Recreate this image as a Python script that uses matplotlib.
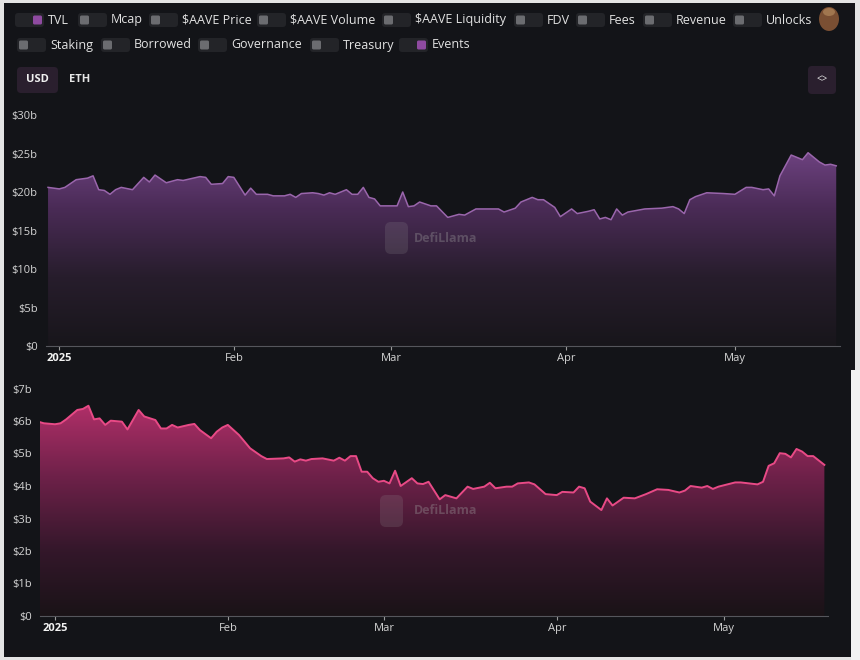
import matplotlib
matplotlib.use('Agg')
import matplotlib.pyplot as plt
import matplotlib.dates as mdates
from matplotlib.patches import FancyBboxPatch, Rectangle, Ellipse
from matplotlib.colors import LinearSegmentedColormap
import numpy as np
import datetime as dt

plt.rcParams['font.family'] = ['Open Sans', 'DejaVu Sans']

# ---------------- data ----------------
legend_labels_row1 = ["TVL", "Mcap", "$AAVE Price", "$AAVE Volume", "$AAVE Liquidity",
                      "FDV", "Fees", "Revenue", "Unlocks"]
legend_labels_row2 = ["Staking", "Borrowed", "Governance", "Treasury", "Events"]
legend_on = {"TVL", "Events"}

tvl_dates = ["2024-12-30", "2025-01-01", "2025-01-02", "2025-01-04", "2025-01-06", "2025-01-07",
             "2025-01-08", "2025-01-09", "2025-01-10", "2025-01-11", "2025-01-12", "2025-01-14",
             "2025-01-16", "2025-01-17", "2025-01-18", "2025-01-20", "2025-01-22", "2025-01-23",
             "2025-01-26", "2025-01-27", "2025-01-28", "2025-01-30", "2025-01-31", "2025-02-01",
             "2025-02-03", "2025-02-04", "2025-02-05", "2025-02-07", "2025-02-08", "2025-02-10",
             "2025-02-11", "2025-02-12", "2025-02-13", "2025-02-15", "2025-02-16", "2025-02-17",
             "2025-02-18", "2025-02-19", "2025-02-21", "2025-02-22", "2025-02-23", "2025-02-24",
             "2025-02-25", "2025-02-26", "2025-02-27", "2025-03-02", "2025-03-03", "2025-03-04",
             "2025-03-05", "2025-03-06", "2025-03-08", "2025-03-09", "2025-03-11", "2025-03-13",
             "2025-03-14", "2025-03-16", "2025-03-20", "2025-03-21", "2025-03-23", "2025-03-24",
             "2025-03-26", "2025-03-27", "2025-03-28", "2025-03-30", "2025-03-31", "2025-04-02",
             "2025-04-03", "2025-04-05", "2025-04-06", "2025-04-07", "2025-04-08", "2025-04-09",
             "2025-04-10", "2025-04-11", "2025-04-12", "2025-04-15", "2025-04-18", "2025-04-20",
             "2025-04-21", "2025-04-22", "2025-04-23", "2025-04-24", "2025-04-26", "2025-04-29",
             "2025-05-01", "2025-05-03", "2025-05-04", "2025-05-06", "2025-05-07", "2025-05-08",
             "2025-05-09", "2025-05-11", "2025-05-13", "2025-05-14", "2025-05-16", "2025-05-17",
             "2025-05-18", "2025-05-19"]
tvl_values = [20.6, 20.4, 20.6, 21.6, 21.8, 22.1,
              20.3, 20.2, 19.7, 20.3, 20.6, 20.3,
              21.9, 21.3, 22.2, 21.2, 21.6, 21.5,
              22.0, 21.9, 21.0, 21.1, 22.0, 21.9,
              19.6, 20.5, 19.7, 19.7, 19.5, 19.5,
              19.7, 19.3, 19.8, 19.9, 19.8, 19.6,
              19.9, 19.7, 20.3, 19.7, 19.7, 20.6,
              19.3, 19.1, 18.2, 18.2, 20.0, 18.1,
              18.2, 18.7, 18.2, 18.2, 16.7, 17.1,
              17.0, 17.8, 17.8, 17.4, 17.9, 18.7,
              19.3, 19.0, 19.0, 18.0, 16.8, 17.8,
              17.2, 17.5, 17.7, 16.5, 16.7, 16.4,
              17.8, 17.0, 17.4, 17.8, 17.9, 18.1,
              17.8, 17.2, 19.0, 19.4, 19.9, 19.8,
              19.7, 20.6, 20.6, 20.3, 20.4, 19.5,
              22.1, 24.8, 24.2, 25.1, 23.9, 23.5,
              23.6, 23.4]

s2_dates = ["2024-12-29", "2024-12-30", "2025-01-01", "2025-01-02", "2025-01-03", "2025-01-05",
            "2025-01-06", "2025-01-07", "2025-01-08", "2025-01-09", "2025-01-10", "2025-01-11",
            "2025-01-13", "2025-01-14", "2025-01-16", "2025-01-17", "2025-01-19", "2025-01-20",
            "2025-01-21", "2025-01-22", "2025-01-23", "2025-01-25", "2025-01-26", "2025-01-27",
            "2025-01-29", "2025-01-30", "2025-01-31", "2025-02-01", "2025-02-03", "2025-02-05",
            "2025-02-07", "2025-02-08", "2025-02-11", "2025-02-12", "2025-02-13", "2025-02-14",
            "2025-02-15", "2025-02-16", "2025-02-18", "2025-02-20", "2025-02-21", "2025-02-22",
            "2025-02-23", "2025-02-24", "2025-02-25", "2025-02-26", "2025-02-27", "2025-02-28",
            "2025-03-01", "2025-03-02", "2025-03-03", "2025-03-04", "2025-03-06", "2025-03-07",
            "2025-03-08", "2025-03-09", "2025-03-11", "2025-03-12", "2025-03-14", "2025-03-16",
            "2025-03-17", "2025-03-19", "2025-03-20", "2025-03-21", "2025-03-23", "2025-03-24",
            "2025-03-25", "2025-03-27", "2025-03-28", "2025-03-30", "2025-04-01", "2025-04-02",
            "2025-04-04", "2025-04-05", "2025-04-06", "2025-04-07", "2025-04-09", "2025-04-10",
            "2025-04-11", "2025-04-13", "2025-04-15", "2025-04-17", "2025-04-19", "2025-04-21",
            "2025-04-23", "2025-04-24", "2025-04-25", "2025-04-27", "2025-04-28", "2025-04-29",
            "2025-04-30", "2025-05-03", "2025-05-04", "2025-05-07", "2025-05-08", "2025-05-09",
            "2025-05-10", "2025-05-11", "2025-05-12", "2025-05-13", "2025-05-14", "2025-05-15",
            "2025-05-16", "2025-05-17", "2025-05-19"]
s2_values = [5.98, 5.93, 5.90, 5.93, 6.05, 6.34,
             6.37, 6.47, 6.05, 6.08, 5.88, 6.01,
             5.98, 5.74, 6.34, 6.14, 6.03, 5.77,
             5.77, 5.88, 5.80, 5.88, 5.91, 5.72,
             5.47, 5.67, 5.80, 5.88, 5.57, 5.16,
             4.92, 4.83, 4.85, 4.88, 4.75, 4.82,
             4.78, 4.83, 4.85, 4.78, 4.87, 4.78,
             4.92, 4.92, 4.44, 4.44, 4.24, 4.13,
             4.16, 4.08, 4.47, 4.00, 4.24, 4.08,
             4.06, 4.13, 3.59, 3.72, 3.62, 3.98,
             3.91, 3.98, 4.10, 3.93, 3.98, 3.98,
             4.08, 4.11, 4.05, 3.75, 3.72, 3.82,
             3.80, 3.98, 3.93, 3.52, 3.26, 3.62,
             3.40, 3.64, 3.62, 3.75, 3.90, 3.88,
             3.80, 3.86, 4.00, 3.95, 4.00, 3.91,
             3.98, 4.11, 4.11, 4.05, 4.13, 4.62,
             4.70, 5.01, 4.99, 4.88, 5.14, 5.06,
             4.92, 4.92, 4.65]

top_yticks = [0, 5, 10, 15, 20, 25, 30]
top_ylabels = ["$0", "$5b", "$10b", "$15b", "$20b", "$25b", "$30b"]
bot_yticks = [0, 1, 2, 3, 4, 5, 6, 7]
bot_ylabels = ["$0", "$1b", "$2b", "$3b", "$4b", "$5b", "$6b", "$7b"]
month_ticks = ["2025-01-01", "2025-02-01", "2025-03-01", "2025-04-01", "2025-05-01"]
month_labels = ["2025", "Feb", "Mar", "Apr", "May"]

# ---------------- figure ----------------
W, H = 860, 660
BG = '#131418'
fig = plt.figure(figsize=(8.6, 6.6), dpi=100)
fig.patch.set_facecolor('#e4e4e4')


def px_rect(l, t, r, b):
    return [l / W, 1 - b / H, (r - l) / W, (b - t) / H]


bg = fig.add_axes([0, 0, 1, 1], zorder=0)
bg.set_xlim(0, W)
bg.set_ylim(H, 0)
bg.axis('off')
bg.add_patch(Rectangle((4, 3), 851, 654, facecolor=BG, edgecolor='none'))
bg.add_patch(Rectangle((851, 370), 9, 290, facecolor='#f2f2f2', edgecolor='none'))

# legend toggles
TXT = '#e2e2e2'
row1_knob = [33, 80, 151, 259, 384, 516, 578, 645, 735]
row2_knob = [19, 103, 200, 312, 417]


def draw_toggle(label, knob_left, yc):
    on = label in legend_on
    if on:
        tl = knob_left + 11 - 29
    else:
        tl = knob_left - 2
    bg.add_patch(FancyBboxPatch((tl, yc - 7), 29, 14,
                                boxstyle='round,pad=0,rounding_size=3',
                                facecolor='#232428', edgecolor='none'))
    bg.add_patch(FancyBboxPatch((knob_left, yc - 4.5), 9, 9,
                                boxstyle='round,pad=0,rounding_size=1.5',
                                facecolor='#8e4aa0' if on else '#6b6c70', edgecolor='none'))
    bg.text(tl + 33, yc, label, color=TXT, fontsize=9, va='center', ha='left')


for lab, k in zip(legend_labels_row1, row1_knob):
    draw_toggle(lab, k, 20)
for lab, k in zip(legend_labels_row2, row2_knob):
    draw_toggle(lab, k, 45)

# bear mascot (decorative)
bg.add_patch(Ellipse((829, 19), 20, 24, facecolor='#7a4f33', edgecolor='none'))
bg.add_patch(Ellipse((829, 12), 12, 8, facecolor='#a0764f', edgecolor='none'))

# USD / ETH toggle and code button
bg.add_patch(FancyBboxPatch((17, 67), 41, 26, boxstyle='round,pad=0,rounding_size=4',
                            facecolor='#2a1f2e', edgecolor='none'))
bg.text(37.5, 80, "USD", color='#f0f0f0', fontsize=8, ha='center', va='center', fontweight='bold')
bg.text(80, 80, "ETH", color='#e6e6e6', fontsize=8, ha='center', va='center', fontweight='bold')
bg.add_patch(FancyBboxPatch((808, 66), 28, 28, boxstyle='round,pad=0,rounding_size=4',
                            facecolor='#2a1f2e', edgecolor='none'))
bg.text(822, 80, "<>", color='#e6e6e6', fontsize=7, ha='center', va='center')

# ---------------- charts ----------------
base = mdates.date2num(dt.datetime(2025, 1, 1))


def to_num(ds):
    return mdates.date2num(np.array(ds, dtype='datetime64[D]'))


def grad_fill(ax, xn, y, cmap, ymax):
    poly = ax.fill_between(xn, y, 0, facecolor='none', edgecolor='none')
    path = poly.get_paths()[0]
    grad = np.linspace(0, 1, 256).reshape(-1, 1)
    im = ax.imshow(grad, cmap=cmap, aspect='auto', origin='lower',
                   extent=[xn.min(), xn.max(), 0, ymax], zorder=1, interpolation='bicubic')
    im.set_clip_path(path, transform=ax.transData)


def style_axes(ax, yt, yl, lab_pad):
    ax.set_facecolor('none')
    for s in ['top', 'right', 'left']:
        ax.spines[s].set_visible(False)
    ax.spines['bottom'].set_color('#55565c')
    ax.spines['bottom'].set_linewidth(0.8)
    ax.set_yticks(yt)
    ax.set_yticklabels(yl)
    ax.tick_params(axis='y', length=0, pad=lab_pad, labelsize=8, labelcolor='#d4d4d4')
    ax.set_xticks(to_num(month_ticks))
    ax.set_xticklabels(month_labels)
    ax.tick_params(axis='x', length=3, width=0.8, color='#9a9a9a', pad=2,
                   labelsize=8, labelcolor='#d4d4d4')
    ax.get_xticklabels()[0].set_fontweight('bold')
    ax.get_xticklabels()[0].set_color('#f2f2f2')


def watermark(l, t, tx, ty):
    fg.add_patch(FancyBboxPatch((l, t), 23, 32, boxstyle='round,pad=0,rounding_size=6',
                                facecolor='#9a9a9a', alpha=0.18, edgecolor='none'))
    fg.text(tx, ty, "DefiLlama", color='#a0a0a0', alpha=0.35, fontsize=9,
            fontweight='bold', ha='left', va='center')


# top chart (TVL)
ax1 = fig.add_axes(px_rect(46, 107.3, 840, 346), zorder=2)
x1 = to_num(tvl_dates)
y1 = np.array(tvl_values)
cmap1 = LinearSegmentedColormap.from_list('p', [(0, '#18161b'), (0.35, '#271d2c'),
                                                (0.7, '#4a2b56'), (1, '#6f4382')])
grad_fill(ax1, x1, y1, cmap1, 25.5)
ax1.plot(x1, y1, color='#9a66ac', lw=1.1, zorder=3)
ax1.set_xlim(base - 2.36, base + 138.67)
ax1.set_ylim(0, 31)
style_axes(ax1, top_yticks, top_ylabels, 6)

# bottom chart
ax2 = fig.add_axes(px_rect(40, 378.75, 828, 616), zorder=2)
x2 = to_num(s2_dates)
y2 = np.array(s2_values)
cmap2 = LinearSegmentedColormap.from_list('r', [(0, '#1a1317'), (0.3, '#33172a'),
                                                (0.65, '#6e2149'), (1, '#b4306a')])
grad_fill(ax2, x2, y2, cmap2, 6.6)
ax2.plot(x2, y2, color='#e84a86', lw=1.4, zorder=3)
ax2.set_xlim(base - 2.69, base + 138.65)
ax2.set_ylim(0, 7.3)
style_axes(ax2, bot_yticks, bot_ylabels, 6)

# foreground overlay for watermarks
fg = fig.add_axes([0, 0, 1, 1], zorder=5)
fg.set_xlim(0, W)
fg.set_ylim(H, 0)
fg.axis('off')
fg.patch.set_alpha(0)
watermark(385, 222, 414, 239)
watermark(380, 495, 414, 511)

fig.savefig('out.png', dpi=100, facecolor=fig.get_facecolor())
